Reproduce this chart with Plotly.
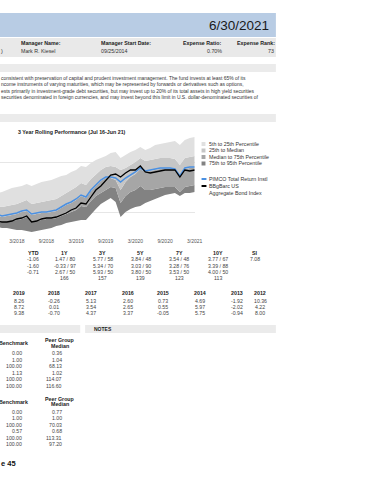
import plotly.graph_objects as go

W, H = 370, 480
FONT = "Liberation Sans, Arial, sans-serif"

# ---------------- chart data (3 year rolling returns, %) ----------------
months = list(range(41))
tick_pos = [4, 10, 16, 22, 28, 34, 40]
tick_labels = ["3/2018", "9/2018", "3/2019", "9/2019", "3/2020", "9/2020", "3/2021"]

pct5 = [1.76, 1.80, 1.88, 1.96, 2.00, 2.04, 2.12, 2.04, 2.12, 2.20, 2.24, 2.28, 2.36, 2.44, 2.48, 2.60, 2.68,
        2.84, 2.80, 2.96, 3.08, 3.16, 3.24, 3.36, 3.40, 3.16, 3.28, 3.40, 3.48, 3.60, 3.48, 3.56, 3.68, 3.72,
        3.76, 3.80, 3.84, 3.68, 3.88, 3.96, 4.00]
pct25 = [1.24, 1.20, 1.24, 1.28, 1.32, 1.40, 1.48, 1.32, 1.36, 1.40, 1.44, 1.48, 1.52, 1.64, 1.76, 1.88, 2.00,
         2.16, 2.08, 2.32, 2.52, 2.68, 2.80, 2.84, 2.80, 2.68, 2.76, 2.88, 3.00, 3.16, 3.04, 3.08, 3.12, 3.16,
         3.16, 3.16, 3.12, 2.88, 3.16, 3.20, 3.24]
pct50 = [0.88, 0.80, 0.84, 0.88, 0.92, 1.00, 1.04, 0.88, 0.92, 0.96, 0.96, 1.00, 1.04, 1.16, 1.28, 1.36, 1.48,
         1.64, 1.56, 1.84, 2.04, 2.24, 2.36, 2.36, 2.28, 1.88, 2.20, 2.40, 2.52, 2.72, 2.60, 2.64, 2.68, 2.72,
         2.72, 2.72, 2.68, 2.36, 2.72, 2.76, 2.76]
pct75 = [0.64, 0.60, 0.60, 0.64, 0.68, 0.72, 0.80, 0.60, 0.64, 0.68, 0.72, 0.72, 0.76, 0.84, 0.92, 1.00, 1.08,
         1.24, 1.20, 1.44, 1.64, 1.76, 1.88, 2.00, 1.96, 1.36, 1.64, 1.80, 1.88, 2.04, 1.88, 1.88, 1.92, 1.96,
         2.00, 2.00, 2.00, 1.80, 2.00, 2.04, 2.08]
pct95 = [0.40, 0.36, 0.36, 0.32, 0.28, 0.28, 0.24, 0.20, 0.24, 0.28, 0.32, 0.36, 0.44, 0.48, 0.56, 0.60, 0.64,
         0.68, 0.68, 0.92, 1.12, 1.32, 1.44, 1.56, 1.40, 0.80, 1.00, 1.12, 1.20, 1.24, 1.36, 1.44, 1.52, 1.60,
         1.68, 1.72, 1.76, 1.64, 1.76, 1.76, 1.80]
fund = [0.92, 0.84, 0.88, 0.92, 0.96, 1.04, 1.08, 0.92, 0.96, 1.00, 1.00, 1.04, 1.08, 1.20, 1.32, 1.40, 1.52,
        1.68, 1.60, 1.88, 2.08, 2.28, 2.40, 2.40, 2.36, 2.20, 2.36, 2.48, 2.60, 2.76, 2.64, 2.68, 2.72, 2.76,
        2.76, 2.76, 2.72, 2.44, 2.76, 2.80, 2.80]
bench = [0.64, 0.60, 0.60, 0.64, 0.72, 0.76, 0.84, 0.60, 0.64, 0.72, 0.76, 0.76, 0.80, 0.88, 0.96, 1.08, 1.16,
         1.36, 1.32, 1.60, 1.88, 2.04, 2.24, 2.48, 2.52, 2.40, 2.56, 2.68, 2.68, 2.84, 2.60, 2.56, 2.60, 2.64,
         2.68, 2.68, 2.68, 2.40, 2.68, 2.64, 2.68]

band_names = ["5th to 25th Percentile", "25th to Median", "Median to 75th Percentile", "75th to 95th Percentile"]
band_colors = ["#e0e0e0", "#c6c6c6", "#a6a6a6", "#828282"]
fund_name = "PIMCO Total Return Instl"
bench_name = ["BBgBarc US", "Aggregate Bond Index"]

# ---------------- header / text data ----------------
report_date = "6/30/2021"
info_labels = ["Manager Name:", "Manager Start Date:", "Expense Ratio:", "Expense Rank:"]
info_values = ["Mark R. Kiesel", "09/25/2014", "0.70%", "73"]
objective_lines = [
    "consistent with preservation of capital and prudent investment management. The fund invests at least 65% of its",
    "ncome instruments of varying maturities, which may be represented by forwards or derivatives such as options,",
    "ests primarily in investment-grade debt securities, but may invest up to 20% of its total assets in high yield securities",
    "securities denominated in foreign currencies, and may invest beyond this limit in U.S. dollar-denominated securities of",
]
chart_title = "3 Year Rolling Performance (Jul 16-Jun 21)"

trail_headers = ["YTD", "1Y", "3Y", "5Y", "7Y", "10Y", "SI"]
fund_trail = [-1.06, 1.47, 5.77, 3.84, 3.54, 3.77, 7.08]
fund_rank = [None, 80, 58, 48, 48, 67, None]
bench_trail = [-1.60, -0.33, 5.34, 3.03, 3.28, 3.39, None]
bench_rank = [None, 97, 70, 90, 76, 88, None]
peer_trail = [-0.71, 2.67, 5.93, 3.80, 3.53, 4.00, None]
peer_rank = [None, 50, 50, 50, 50, 50, None]
peer_count = [None, 166, 157, 139, 123, 113, None]

years = ["2019", "2018", "2017", "2016", "2015", "2014", "2013", "2012"]
fund_cal = [8.26, -0.26, 5.13, 2.60, 0.73, 4.69, -1.92, 10.36]
bench_cal = [8.72, 0.01, 3.54, 2.65, 0.55, 5.97, -2.02, 4.22]
peer_cal = [9.38, -0.70, 4.37, 3.37, -0.05, 5.75, -0.94, 8.00]

risk1_bench = [0.00, 1.00, 100.00, 1.13, 100.00, 100.00]
risk1_peer = [0.36, 1.04, 68.13, 1.02, 114.07, 116.60]
risk2_bench = [0.00, 1.00, 100.00, 0.57, 100.00, 100.00]
risk2_peer = [0.77, 1.00, 70.03, 0.68, 113.31, 97.20]
page_label = "e 45"


def px(x):
    return x / W


def py(y):
    return 1 - y / H


annotations = []
shapes = []


def txt(x, y, s, size=5.2, anchor="left", color="#333", bold=False):
    annotations.append(dict(
        x=px(x), y=py(y), xref="paper", yref="paper", text=("<b>%s</b>" % s) if bold else s,
        showarrow=False, xanchor=anchor, yanchor="middle",
        font=dict(family=FONT, size=size, color=color), borderpad=0))


def rect(x0, y0, x1, y1, color):
    shapes.append(dict(type="rect", xref="paper", yref="paper", x0=px(x0), x1=px(x1), y0=py(y1), y1=py(y0),
                       fillcolor=color, line=dict(width=0), layer="below"))


def fmt(v, r=None):
    if v is None:
        return ""
    s = "%.2f" % v
    if r is not None:
        s += " / %d" % r
    return s


fig = go.Figure()
fig.add_trace(go.Scatter(x=months, y=pct95, mode="lines", line=dict(width=0), showlegend=False, hoverinfo="skip"))
for arr, c in zip([pct75, pct50, pct25, pct5], band_colors[::-1]):
    fig.add_trace(go.Scatter(x=months, y=arr, mode="lines", line=dict(width=0), fill="tonexty",
                             fillcolor=c, showlegend=False, hoverinfo="skip"))
fig.add_trace(go.Scatter(x=months, y=fund, mode="lines", line=dict(color="#4a90e2", width=1.5), showlegend=False))
fig.add_trace(go.Scatter(x=months, y=bench, mode="lines", line=dict(color="#000000", width=1.3), showlegend=False))

# header bars
rect(0, 13, 282, 37, "#b8cce4")
txt(276, 25.5, report_date, size=13.5, anchor="right", color="#1a1a1a")
rect(0, 38, 282, 57, "#e9e9e9")
txt(0.3, 50.5, ")", size=5.3)
txt(20, 43.3, info_labels[0], size=5.3, bold=True, color="#222")
txt(20, 50.5, info_values[0], size=5.3, color="#333")
txt(102, 43.3, info_labels[1], size=5.3, bold=True, color="#222")
txt(102, 50.5, info_values[1], size=5.3, color="#333")
txt(228, 43.3, info_labels[2], size=5.3, anchor="right", bold=True, color="#222")
txt(228, 50.5, info_values[2], size=5.3, anchor="right", color="#333")
txt(282, 43.3, info_labels[3], size=5.3, anchor="right", bold=True, color="#222")
txt(281, 50.5, info_values[3], size=5.3, anchor="right", color="#333")
rect(0, 64, 282, 72, "#ebebeb")
for i, line in enumerate(objective_lines):
    txt(0, 78.5 + i * 6.4, line, size=4.95, color="#333")
rect(0, 114, 282, 122, "#ebebeb")
txt(17, 132, chart_title, size=5.3, bold=True, color="#222")

# legend
leg_y = [144, 150.5, 157, 163.5]
for yy, name, c in zip(leg_y, band_names, band_colors):
    rect(206, yy - 2, 210, yy + 2, c)
    txt(213, yy, name, size=5.3)
shapes.append(dict(type="line", xref="paper", yref="paper", x0=px(206), x1=px(211), y0=py(179), y1=py(179),
                   line=dict(color="#4a90e2", width=2)))
txt(213, 179, fund_name, size=5.3)
shapes.append(dict(type="line", xref="paper", yref="paper", x0=px(206), x1=px(211), y0=py(186), y1=py(186),
                   line=dict(color="#000", width=2)))
txt(213, 186, bench_name[0], size=5.3)
txt(213, 192.5, bench_name[1], size=5.3)

# trailing returns table
cols1 = [34, 66, 105, 144, 183, 223, 261]
rows1 = [259, 265.7, 272, 277.8]
for j, h in enumerate(trail_headers):
    txt(cols1[j], 253.3, h, size=5.3, anchor="center", bold=True, color="#222")
    txt(cols1[j], rows1[0], fmt(fund_trail[j], fund_rank[j]), anchor="center", color="#444")
    txt(cols1[j], rows1[1], fmt(bench_trail[j], bench_rank[j]), anchor="center", color="#444")
    txt(cols1[j], rows1[2], fmt(peer_trail[j], peer_rank[j]), anchor="center", color="#444")
    txt(cols1[j], rows1[3], "" if peer_count[j] is None else str(peer_count[j]), anchor="center", color="#444")

# calendar year table
cols2 = [19, 55, 93, 131, 167, 204, 242, 266]
for j, yname in enumerate(years):
    txt(cols2[j], 293.3, yname, size=5.3, anchor="center", bold=True, color="#222")
    txt(cols2[j], 300.7, fmt(fund_cal[j]), anchor="center", color="#444")
    txt(cols2[j], 306.9, fmt(bench_cal[j]), anchor="center", color="#444")
    txt(cols2[j], 313.3, fmt(peer_cal[j]), anchor="center", color="#444")

rect(0, 325, 82, 333, "#ebebeb")
rect(87, 325, 282, 333, "#ebebeb")
txt(95, 329, "NOTES", size=5.0, bold=True, color="#222")

# risk tables
for (hy, ry0, bvals, pvals) in [(343.3, 353.3, risk1_bench, risk1_peer), (401.7, 411.7, risk2_bench, risk2_peer)]:
    txt(30, hy, "Benchmark", size=5.3, anchor="right", bold=True, color="#222")
    txt(61, hy - 3.2, "Peer Group", size=5.3, anchor="center", bold=True, color="#222")
    txt(61, hy + 2.2, "Median", size=5.3, anchor="center", bold=True, color="#222")
    for k in range(6):
        txt(23, ry0 + k * 6.5, fmt(bvals[k]), anchor="right", color="#444")
        txt(64, ry0 + k * 6.5, fmt(pvals[k]), anchor="right", color="#444")

txt(0, 463.3, page_label, size=7.5, bold=True, color="#111")

fig.update_layout(
    width=W, height=H, margin=dict(l=0, r=0, t=0, b=0),
    paper_bgcolor="white", plot_bgcolor="rgba(0,0,0,0)",
    showlegend=False, annotations=annotations, shapes=shapes,
    xaxis=dict(domain=[0, 199 / W], range=[0.6, 40], tickvals=tick_pos, ticktext=tick_labels,
               showgrid=False, zeroline=False, showline=False, ticks="",
               tickfont=dict(family=FONT, size=5, color="#555")),
    yaxis=dict(domain=[py(237), py(137)], range=[0, 4], tickvals=[1, 3], showticklabels=False,
               showgrid=True, gridcolor="#e6e6e6", gridwidth=1, zeroline=False, showline=False),
)

fig.write_html("out.html", config={"displayModeBar": False},
               post_script="document.body.style.margin='0';document.body.style.padding='0';")
